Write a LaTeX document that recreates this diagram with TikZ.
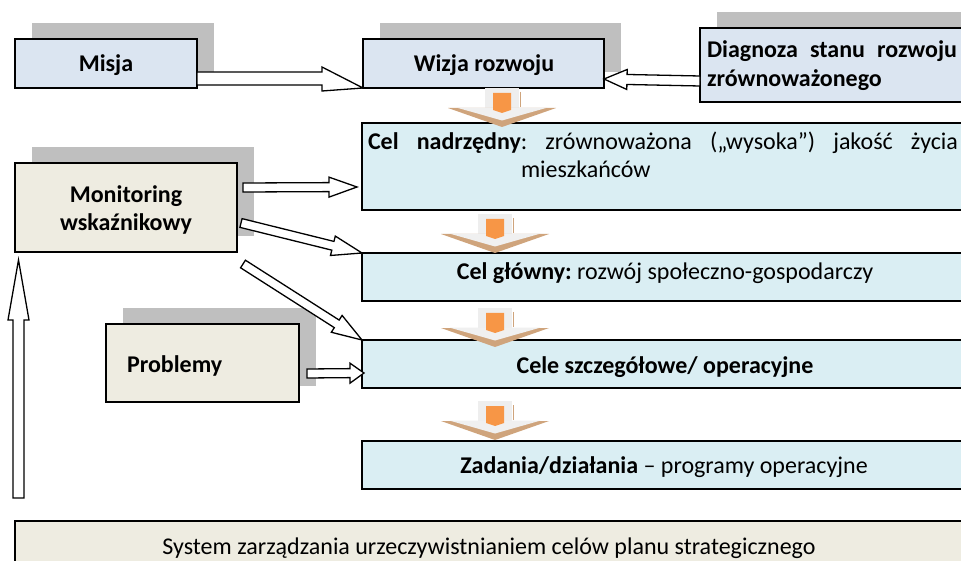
\documentclass[tikz,border=0pt]{standalone}
\usepackage{fontspec}
\setmainfont{Carlito}
\usetikzlibrary{calc,shadows}
\frenchspacing
\definecolor{boxblue}{HTML}{DBE5F1}
\definecolor{celblue}{HTML}{DAEEF3}
\definecolor{tanbg}{HTML}{EEECE1}
\definecolor{shadowgray}{HTML}{BFBFBF}
\definecolor{orangeA}{HTML}{F79646}
\definecolor{headtan}{HTML}{CFA47C}
\definecolor{shaftgray}{HTML}{EEEEEE}
\newcommand{\blockarr}[5]{%
  \draw[blockarrow] let \p1=(#1), \p2=(#2), \n1={atan2(\y2-\y1,\x2-\x1)} in
    ($(\p1)+(\n1+90:#3)$) -- ($(\p2)!#5!(\p1)+(\n1+90:#3)$) -- ($(\p2)!#5!(\p1)+(\n1+90:#4)$)
    -- (\p2) -- ($(\p2)!#5!(\p1)+(\n1-90:#4)$) -- ($(\p2)!#5!(\p1)+(\n1-90:#3)$)
    -- ($(\p1)+(\n1-90:#3)$) -- cycle;}
\newcommand{\flowdown}[2]{%
  \begin{scope}[shift={(#1,#2)}]
    \fill[shaftgray] (-17,-39) rectangle (17,-19);
    \fill[headtan] (-54,-19) -- (54,-19) -- (0,0) -- cycle;
    \fill[white!94!black] (-45,-19.3) -- (45,-19.3) -- (0,-6.5) -- cycle;
    \fill[orangeA] (-9,-34) -- (9,-34) -- (9,-17) -- (0,-14) -- (-9,-17) -- cycle;
    \draw[headtan, line width=1.5pt] (18.5,-35) -- (18.5,-20);
  \end{scope}}
\begin{document}
\begin{tikzpicture}[x=1pt,y=-1pt,
  box/.style={draw=black, line width=1.3pt, inner sep=0pt, outer sep=0pt, rectangle},
  shad/.style={general shadow={fill=shadowgray, shadow xshift=16.5pt, shadow yshift=16pt}},
  txt/.style={inner sep=0pt, outer sep=0pt, font=\fontsize{24}{29}\selectfont},
  blockarrow/.style={draw=black, fill=white, line width=1.3pt, line join=miter},
]
\useasboundingbox (0,0) rectangle (961,561);
\clip (0,0) rectangle (961,561);
\fill[white] (0,0) rectangle (961,561);

% boxes
\node[box, shad, fill=boxblue, minimum width=182pt, minimum height=49pt] (misja) at (106,63.5) {};
\node[box, shad, fill=boxblue, minimum width=241pt, minimum height=49pt] (wizja) at (483.5,63.5) {};
\node[box, shad, fill=boxblue, minimum width=275pt, minimum height=74pt] (diag) at (837.5,65) {};
\node[box, fill=celblue, minimum width=613pt, minimum height=87pt] (celn) at (668.5,166.5) {};
\node[box, fill=celblue, minimum width=613pt, minimum height=48pt] (celg) at (668.5,277) {};
\node[box, fill=celblue, minimum width=613pt, minimum height=48pt] (cels) at (668.5,364) {};
\node[box, fill=celblue, minimum width=613pt, minimum height=48pt] (zad) at (668.5,465) {};
\node[box, fill=tanbg, minimum width=960pt, minimum height=54pt] (sys) at (495,548) {};
\node[box, shad, fill=tanbg, minimum width=222pt, minimum height=89pt] (mon) at (126,207.5) {};
\node[box, shad, fill=tanbg, minimum width=193pt, minimum height=78pt] (prob) at (202.5,363) {};

% texts
\node[txt, anchor=base] (tmisja) at (106,72) {\textbf{Misja}};
\node[txt, anchor=base] (twizja) at (484,72) {\textbf{Wizja rozwoju}};
\node[txt, anchor=base west] (tdiag1) at (707,58) {\makebox[250pt][s]{\textbf{Diagnoza stanu rozwoju}}};
\node[txt, anchor=base west] (tdiag2) at (707,87) {\textbf{zrównoważonego}};
\node[txt, anchor=base] (tmon1) at (126,203) {\textbf{Monitoring}};
\node[txt, anchor=base] (tmon2) at (126,231) {\textbf{wskaźnikowy}};
\node[txt, anchor=base west] (tprob) at (127,372) {\textbf{Problemy}};
\node[txt, anchor=base west] (tceln1) at (368,150) {\makebox[590pt][s]{\textbf{Cel nadrzędny}: zrównoważona („wysoka”) jakość życia}};
\node[txt, anchor=base west] (tceln2) at (521,178) {mieszkańców};
\node[txt, anchor=base] (tcelg) at (665,280) {\textbf{Cel główny:} rozwój społeczno-gospodarczy};
\node[txt, anchor=base] (tcels) at (665,373) {\textbf{Cele szczegółowe/ operacyjne}};
\node[txt, anchor=base] (tzad) at (664,473) {\textbf{Zadania/działania} – programy operacyjne};
\node[txt, anchor=base] (tsys) at (489,554) {System zarządzania urzeczywistnianiem celów planu strategicznego};

% block arrows
\coordinate (mwtail) at (197,78.5);
\coordinate (mwtip) at (wizja.south west);
\draw[blockarrow] ($(mwtail)+(0,-6.5)$) -- ($(mwtail)+(125,-6.5)$) -- ($(mwtail)+(125,-11.5)$)
  -- (mwtip) -- ($(mwtail)+(125,12.5)$) -- ($(mwtail)+(125,6.5)$) -- ($(mwtail)+(0,6.5)$) -- cycle;

\coordinate (dwtail) at (700,81);
\coordinate (dwtip) at (604,79);
\blockarr{dwtail}{dwtip}{5pt}{10pt}{23pt}

\coordinate (m1tail) at (243,187.5);
\coordinate (m1tip) at (357,187);
\blockarr{m1tail}{m1tip}{4.5pt}{10pt}{28pt}

\coordinate (m2tail) at (241,223);
\coordinate (m2tip) at (celg.north west);
\blockarr{m2tail}{m2tip}{4.5pt}{10pt}{30pt}

\coordinate (m3tail) at (243,264);
\coordinate (m3tip) at (cels.north west);
\blockarr{m3tail}{m3tip}{4.5pt}{10pt}{30pt}

\coordinate (pctail) at (307,373.5);
\coordinate (pctip) at (364,373);
\blockarr{pctail}{pctip}{4.5pt}{10pt}{14pt}

\coordinate (uptail) at (18.5,498);
\coordinate (uptip) at (18.5,260);
\blockarr{uptail}{uptip}{5.5pt}{10.5pt}{60pt}

% flow arrows
\flowdown{502}{127}
\flowdown{495}{253}
\flowdown{495}{347}
\flowdown{495}{440}
\end{tikzpicture}
\end{document}
